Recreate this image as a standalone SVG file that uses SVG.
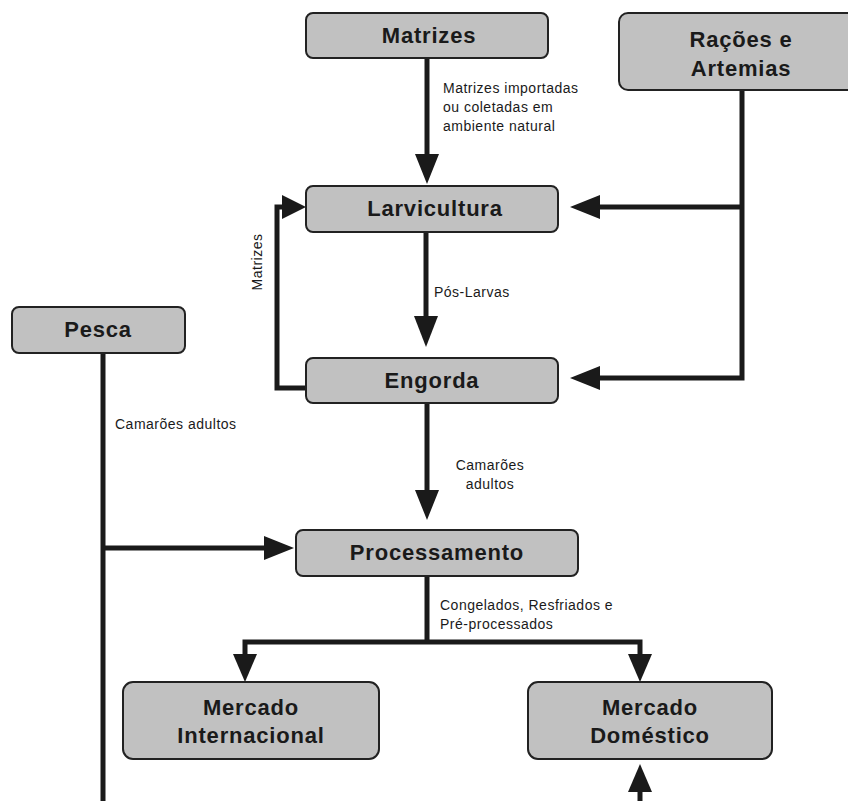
<svg xmlns="http://www.w3.org/2000/svg" width="848" height="801" viewBox="0 0 848 801">
<defs>
<style>
.box{fill:#c1c1c1;stroke:#222;stroke-width:2}
.t{font-family:"Liberation Sans",Arial,sans-serif;font-weight:bold;font-size:22px;letter-spacing:0.8px;fill:#1a1a1a;text-anchor:middle}
.l{font-family:"Liberation Sans",Arial,sans-serif;font-size:14px;letter-spacing:0.5px;fill:#1a1a1a}
.c{fill:none;stroke:#1a1a1a;stroke-width:5}
.h{fill:#1a1a1a}
</style>
</defs>
<rect width="848" height="801" fill="#fff"/>
<g id="connectors">
<path class="c" d="M427 58V156"/>
<polygon class="h" points="415,154 439,154 427,184"/>
<path class="c" d="M742 90V378H598"/>
<path class="c" d="M742 207H598"/>
<polygon class="h" points="600,195 600,219 570,207"/>
<polygon class="h" points="600,366 600,390 570,378"/>
<path class="c" d="M426 232V318"/>
<polygon class="h" points="414,316 438,316 426,347"/>
<path class="c" d="M306 388H277V207H284"/>
<polygon class="h" points="282,195 282,219 306,207"/>
<path class="c" d="M427 403V492"/>
<polygon class="h" points="415,490 439,490 427,520"/>
<path class="c" d="M103 353V801"/>
<path class="c" d="M103 548H266"/>
<polygon class="h" points="264,536 264,560 294,548"/>
<path class="c" d="M427 576V642M245 656V642H640V656"/>
<polygon class="h" points="233,654 257,654 245,682"/>
<polygon class="h" points="628,654 652,654 640,682"/>
<path class="c" d="M640 801V790"/>
<polygon class="h" points="628,792 652,792 640,764"/>
</g>
<g id="matrizes"><rect class="box" x="306" y="13" width="242" height="45" rx="7"/><text class="t" x="429" y="43">Matrizes</text></g>
<g id="racoes"><rect class="box" x="619" y="13" width="240" height="77" rx="9"/><text class="t" x="741" y="47">Rações e</text><text class="t" x="741" y="76">Artemias</text></g>
<g id="larvicultura"><rect class="box" x="306" y="186" width="252" height="46" rx="7"/><text class="t" x="435" y="216">Larvicultura</text></g>
<g id="engorda"><rect class="box" x="306" y="358" width="252" height="45" rx="7"/><text class="t" x="432" y="388">Engorda</text></g>
<g id="pesca"><rect class="box" x="12" y="307" width="173" height="46" rx="7"/><text class="t" x="98" y="337">Pesca</text></g>
<g id="processamento"><rect class="box" x="296" y="530" width="282" height="46" rx="7"/><text class="t" x="437" y="560">Processamento</text></g>
<g id="mercado-internacional"><rect class="box" x="123" y="682" width="256" height="77" rx="10"/><text class="t" x="251" y="715">Mercado</text><text class="t" x="251" y="743">Internacional</text></g>
<g id="mercado-domestico"><rect class="box" x="528" y="682" width="244" height="77" rx="10"/><text class="t" x="650" y="715">Mercado</text><text class="t" x="650" y="743">Doméstico</text></g>
<g id="labels">
<text class="l" x="443" y="93">Matrizes importadas</text>
<text class="l" x="443" y="112">ou coletadas em</text>
<text class="l" x="443" y="131">ambiente natural</text>
<text class="l" x="434" y="297">Pós-Larvas</text>
<text class="l" x="262" y="262" transform="rotate(-90 262 262)" text-anchor="middle">Matrizes</text>
<text class="l" x="115" y="429">Camarões adultos</text>
<text class="l" x="490" y="470" text-anchor="middle">Camarões</text>
<text class="l" x="490" y="489" text-anchor="middle">adultos</text>
<text class="l" x="440" y="610">Congelados, Resfriados e</text>
<text class="l" x="440" y="629">Pré-processados</text>
</g>
</svg>
